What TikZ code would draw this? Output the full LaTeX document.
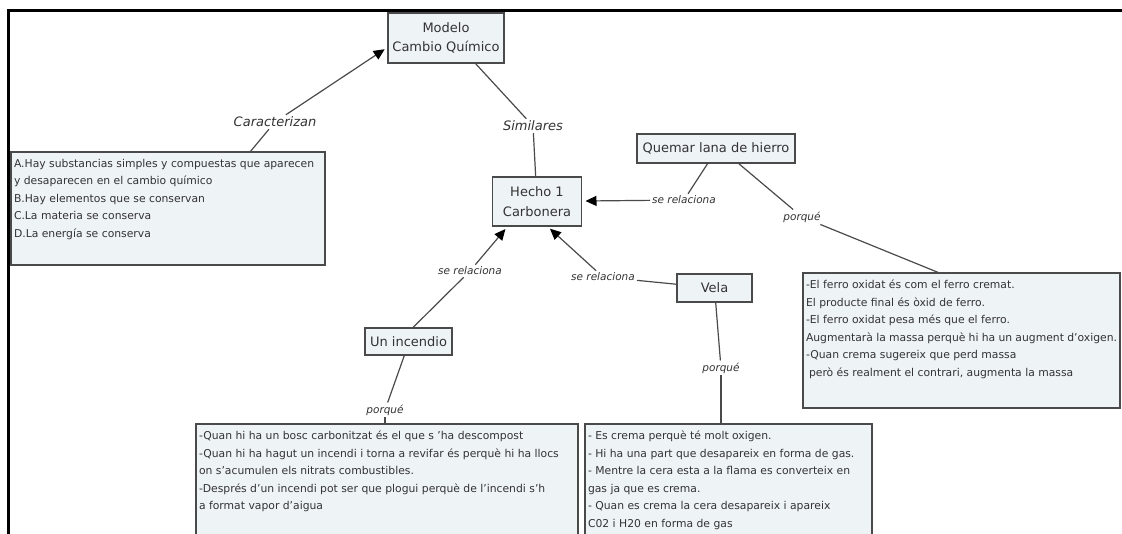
\documentclass[tikz,border=0pt]{standalone}
\usepackage{fontspec}
\setmainfont{DejaVu Sans}
\usetikzlibrary{arrows.meta}
\definecolor{boxfill}{HTML}{EEF3F6}
\definecolor{boxline}{HTML}{4A4A4A}
\definecolor{txt}{HTML}{333333}
\definecolor{connc}{HTML}{4A4A4A}
\newcommand\ntext[3]{\parbox[t][#2][t]{#1}{#3}}
\begin{document}
\begin{tikzpicture}[x=1pt,y=-1pt,
 concept/.style={draw=boxline, line width=1.6pt, fill=boxfill, text=txt,
   font=\fontsize{13}{19.5}\selectfont, align=center, inner sep=0pt, outer sep=0pt},
 notebox/.style={draw=boxline, line width=1.6pt, fill=boxfill, text=txt,
   font=\fontsize{10.8}{17.5}\selectfont, inner xsep=3pt, inner ysep=7pt,
   anchor=north west, outer sep=0pt},
 lbl/.style={text=txt, font=\itshape\fontsize{13}{15}\selectfont, inner sep=2pt},
 slbl/.style={text=txt, font=\itshape\fontsize{10.5}{12}\selectfont, inner sep=2pt},
 link/.style={draw=connc, line width=1.2pt},
 arr/.style={link, shorten >=4pt, -{Triangle[length=11pt,width=10pt,color=black]}}
]
\useasboundingbox (0,0) rectangle (1122,534);
\clip (0,0) rectangle (1122,534);
\fill[white] (0,0) rectangle (1122,534);

% frame
\draw[line width=3pt] (8,534) -- (8,11) -- (1122,11);

% concept nodes
\node[concept, minimum width=116pt, minimum height=50pt] (modelo) at (446,38) {Modelo\\Cambio Químico};
\node[concept, minimum width=89pt, minimum height=49pt] (hecho) at (537,201.5) {Hecho 1\\Carbonera};
\node[concept, minimum width=158pt, minimum height=29pt] (quemar) at (716,148.5) {Quemar lana de hierro};
\node[concept, minimum width=87pt, minimum height=27pt] (incendio) at (408.5,341.5) {Un incendio};
\node[concept, minimum width=75pt, minimum height=28pt] (vela) at (714.5,288) {Vela};

% note boxes
\node[notebox] (leftbox) at (11,152) {\ntext{308pt}{99pt}{%
A.Hay substancias simples y compuestas que aparecen\\
y desaparecen en el cambio químico\\
B.Hay elementos que se conservan\\
C.La materia se conserva\\
D.La energía se conserva}};

\node[notebox] (rightbox) at (803,273) {\ntext{311pt}{121pt}{%
-El ferro oxidat és com el ferro cremat.\\
El producte final és òxid de ferro.\\
-El ferro oxidat pesa més que el ferro.\\
Augmentarà la massa perquè hi ha un augment d'oxigen.\\
-Quan crema sugereix que perd massa\\
\hspace*{3pt}però és realment el contrari, augmenta la massa}};

\node[notebox] (blbox) at (196,424) {\ntext{376pt}{126pt}{%
-Quan hi ha un bosc carbonitzat és el que s 'ha descompost\\
-Quan hi ha hagut un incendi i torna a revifar és perquè hi ha llocs\\
on s'acumulen els nitrats combustibles.\\
-Després d'un incendi pot ser que plogui perquè de l'incendi s'h\\
a format vapor d'aigua}};

\node[notebox] (brbox) at (585,424) {\ntext{281pt}{126pt}{%
- Es crema perquè té molt oxigen.\\
- Hi ha una part que desapareix en forma de gas.\\
- Mentre la cera esta a la flama es converteix en\\
gas ja que es crema.\\
- Quan es crema la cera desapareix i apareix\\
C02 i H20 en forma de gas}};

% linking phrases
\node[lbl] (car) at (275,122) {Caracterizan};
\node[lbl] (sim) at (533,126) {Similares};
\node[slbl] (sr1) at (684,200) {se relaciona};
\node[slbl] (pq1) at (802,217) {porqué};
\node[slbl] (sr2) at (470,271) {se relaciona};
\node[slbl] (pq2) at (385,410) {porqué};
\node[slbl] (sr3) at (603,277) {se relaciona};
\node[slbl] (pq3) at (721,368) {porqué};

% connectors
\draw[arr] (car) -- ([yshift=-9pt]modelo.west);
\draw[link] (car) -- ([xshift=82pt]leftbox.north);
\draw[link] ([xshift=29pt]modelo.south) -- (sim);
\draw[link] (sim) -- (hecho);

\draw[link] ([xshift=-8pt]quemar.south) -- (sr1);
\draw[arr] (sr1) -- (hecho);
\draw[link] ([xshift=22pt]quemar.south) -- (pq1);
\draw[link] (pq1) -- ([xshift=-22pt]rightbox.north);

\draw[arr] (sr2) -- ([xshift=-29pt]hecho.south);
\draw[link] (sr2) -- ([xshift=4pt]incendio.north);
\draw[link] ([xshift=-4pt]incendio.south) -- (pq2);
\draw[link] (pq2) -- (pq2 |- blbox.north);

\draw[arr] (sr3) -- ([xshift=10pt]hecho.south);
\draw[link] (sr3) -- (vela);
\draw[link] (vela) -- (pq3);
\draw[link] (pq3) -- (pq3 |- brbox.north);
\end{tikzpicture}
\end{document}
